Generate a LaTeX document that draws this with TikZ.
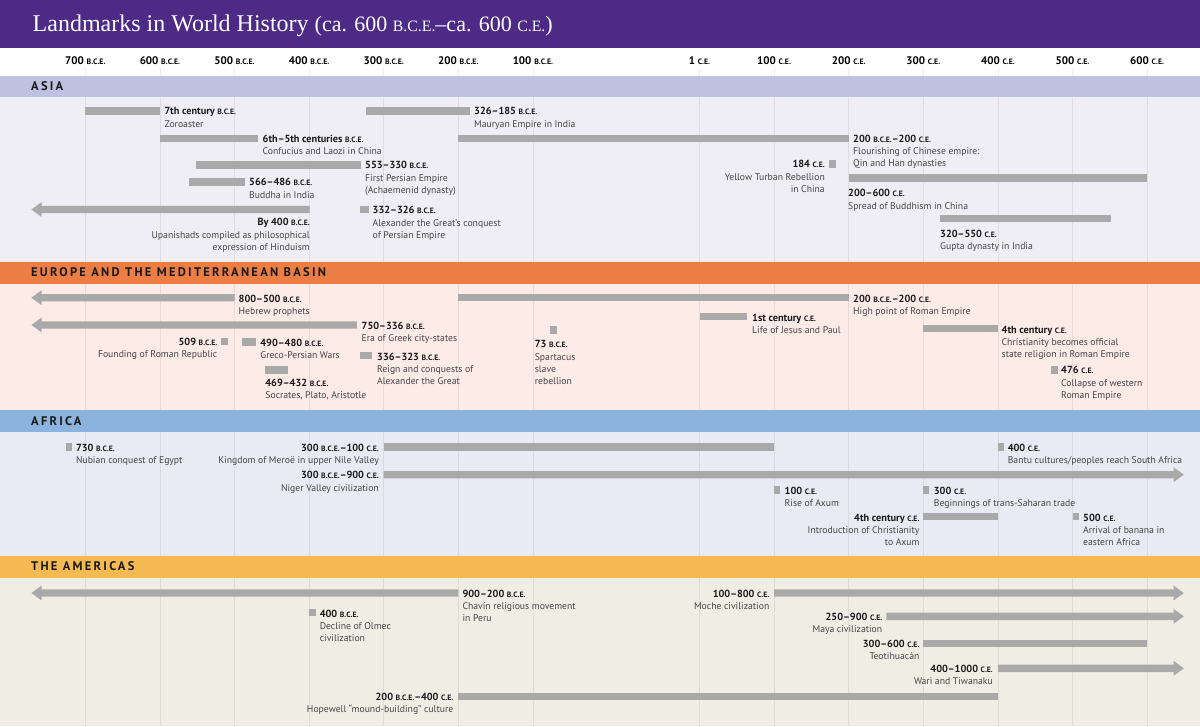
\documentclass[tikz,border=0pt]{standalone}
\usepackage{fontspec}
\setmainfont{PT Sans}
\newfontfamily\titlefont{Liberation Serif}
\newfontfamily\secfont{PT Sans}[LetterSpace=18]
\definecolor{hdr}{HTML}{4C2A85}
\definecolor{asiaband}{HTML}{BEC1E0}
\definecolor{asiabg}{HTML}{F0EEF5}
\definecolor{euband}{HTML}{EC7E45}
\definecolor{eubg}{HTML}{FDEBE8}
\definecolor{afband}{HTML}{8CB2DE}
\definecolor{afbg}{HTML}{E9EAF4}
\definecolor{amband}{HTML}{F5BA52}
\definecolor{ambg}{HTML}{F0EEE4}
\definecolor{barcol}{HTML}{A9A9A9}
\definecolor{desc}{HTML}{454545}
\definecolor{datecol}{HTML}{1A1A1A}
\newcommand\bce{{\fontsize{7.7}{6.8}\selectfont B.C.E.}}
\newcommand\ce{{\fontsize{7.7}{6.8}\selectfont C.E.}}
\newcommand\dt[1]{{\color{datecol}\bfseries\fontsize{10.3}{12.2}\selectfont #1}}
\newcommand\tbar[3]{\fill[barfill] (#1,{#3-3.7}) rectangle (#2,{#3+3.7});}
\newcommand\arrL[2]{\fill[barfill] (31.4,#2) -- (41.5,{#2-7.4}) -- (41.5,{#2-3.7}) -- (#1,{#2-3.7}) -- (#1,{#2+3.7}) -- (41.5,{#2+3.7}) -- (41.5,{#2+7.4}) -- cycle;}
\newcommand\arrR[2]{\fill[barfill] (1183.8,#2) -- (1173.7,{#2-7.4}) -- (1173.7,{#2-3.7}) -- (#1,{#2-3.7}) -- (#1,{#2+3.7}) -- (1173.7,{#2+3.7}) -- (1173.7,{#2+7.4}) -- cycle;}
\tikzset{
  lab/.style={inner sep=0pt, font=\fontsize{9.7}{12.2}\selectfont, text=desc, align=left, anchor=north west, yshift=4.9pt},
  labr/.style={lab, align=right, anchor=north east},
  barfill/.style={fill=barcol},
  gridc/.style={draw=black, draw opacity=0.07, line width=0.8pt},
  sect/.style={anchor=west, inner sep=0pt, text=datecol, font=\secfont\bfseries\fontsize{12.5}{13}\selectfont},
  axl/.style={inner sep=0pt, text=black, font=\bfseries\fontsize{11}{11}\selectfont},
}
\newcommand\abce{{\fontsize{7.8}{7.8}\selectfont B.C.E.}}
\newcommand\ace{{\fontsize{7.8}{7.8}\selectfont C.E.}}
\begin{document}
\begin{tikzpicture}[x=1pt,y=-1pt]
\useasboundingbox (0,0) rectangle (1200,726);
% backgrounds
\fill[hdr] (0,0) rectangle (1200,47.5);
\fill[white] (0,47.5) rectangle (1200,76);
\fill[asiabg] (0,96.5) rectangle (1200,261.5);
\fill[eubg] (0,283.5) rectangle (1200,409.5);
\fill[afbg] (0,431.5) rectangle (1200,555.5);
\fill[ambg] (0,577.5) rectangle (1200,726);
% grid
\foreach \x in {85.3,159.9,234.5,309.1,383.7,458.3,532.9,699.5,774.1,848.7,923.3,997.9,1072.5,1147.1}
  \draw[gridc] (\x,68) -- (\x,726);
% bands
\fill[asiaband] (0,76) rectangle (1200,96.5);
\fill[euband] (0,261.5) rectangle (1200,283.5);
\fill[afband] (0,409.5) rectangle (1200,431.5);
\fill[amband] (0,555.5) rectangle (1200,577.5);
% title
\node[anchor=base west, inner sep=0pt, text=white] (title) at (32.5,31)
  {\titlefont\fontsize{24}{26}\selectfont Landmarks in World History {\fontsize{22}{22}\selectfont (ca. 600 {\fontsize{15.8}{15.8}\selectfont B.C.E.}–ca. 600 {\fontsize{15.8}{15.8}\selectfont C.E.})}};
% axis
\foreach \x/\t [count=\i] in {85.3/700,159.9/600,234.5/500,309.1/400,383.7/300,458.3/200,532.9/100}
  \node[axl] (ab\i) at (\x,61) {\t\ \abce};
\foreach \x/\t [count=\i] in {699.5/1,774.1/100,848.7/200,923.3/300,997.9/400,1072.5/500,1147.1/600}
  \node[axl] (ac\i) at (\x,61) {\t\ \ace};
% section titles
\node[sect] (asia) at (31,86) {ASIA};
\node[sect] (europe) at (31,272.5) {EUROPE AND THE MEDITERRANEAN BASIN};
\node[sect] (africa) at (31,421) {AFRICA};
\node[sect] (americas) at (31,566.5) {THE AMERICAS};
% ---------- ASIA
\tbar{85.3}{160}{111}
\node[lab] (zoro) at (164.5,111) {\strut\dt{7th century \bce}\\Zoroaster};
\tbar{366}{469.5}{111}
\node[lab] (maur) at (474,111) {\strut\dt{326–185 \bce}\\Mauryan Empire in India};
\tbar{160}{258}{138.5}
\node[lab] (conf) at (262.5,138.5) {\strut\dt{6th–5th centuries \bce}\\Confucius and Laozi in China};
\tbar{458.3}{848.7}{138.5}
\node[lab] (qin) at (853,138.5) {\strut\dt{200 \bce–200 \ce}\\Flourishing of Chinese empire:\\Qin and Han dynasties};
\tbar{196}{360.5}{165}
\node[lab] (pers) at (365,165) {\strut\dt{553–330 \bce}\\First Persian Empire\\(Achaemenid dynasty)};
\tbar{829}{836}{164}
\node[labr] (yell) at (825,164) {\strut\dt{184 \ce}\\Yellow Turban Rebellion\\in China};
\tbar{189}{245}{182}
\node[lab] (budd) at (249,182) {\strut\dt{566–486 \bce}\\Buddha in India};
\tbar{848.7}{1147}{178}
\node[lab] (bchin) at (848,193) {\strut\dt{200–600 \ce}\\Spread of Buddhism in China};
\arrL{309.5}{209.5}
\node[labr] (upan) at (310,222) {\strut\dt{By 400 \bce}\\Upanishads compiled as philosophical\\expression of Hinduism};
\tbar{359.5}{368.5}{209.5}
\node[lab] (alex) at (372.5,210) {\strut\dt{332–326 \bce}\\Alexander the Great’s conquest\\of Persian Empire};
\tbar{940}{1111}{218.5}
\node[lab] (gupta) at (940,233.3) {\strut\dt{320–550 \ce}\\Gupta dynasty in India};
% ---------- EUROPE
\arrL{234.5}{297.7}
\node[lab] (hebr) at (238.5,298.3) {\strut\dt{800–500 \bce}\\Hebrew prophets};
\tbar{458.3}{848.7}{297.7}
\node[lab] (rome) at (853,298.3) {\strut\dt{200 \bce–200 \ce}\\High point of Roman Empire};
\arrL{356.8}{325}
\node[lab] (greek) at (361.5,325.3) {\strut\dt{750–336 \bce}\\Era of Greek city-states};
\tbar{221}{228}{341.7}
\node[labr] (repub) at (217.5,341.7) {\strut\dt{509 \bce}\\Founding of Roman Republic};
\tbar{242.3}{256.4}{342}
\node[lab] (grper) at (260.2,342.3) {\strut\dt{490–480 \bce}\\Greco-Persian Wars};
\tbar{359.7}{372}{355.3}
\node[lab] (reign) at (377,356.3) {\strut\dt{336–323 \bce}\\Reign and conquests of\\Alexander the Great};
\tbar{265}{288}{370}
\node[lab] (socr) at (265.2,382.7) {\strut\dt{469–432 \bce}\\Socrates, Plato, Aristotle};
\tbar{550}{557}{330}
\node[lab] (spart) at (534.6,344) {\strut\dt{73 \bce}\\Spartacus\\slave\\rebellion};
\tbar{699.5}{747.3}{316.7}
\node[lab] (jesus) at (752,317.3) {\strut\dt{1st century \ce}\\Life of Jesus and Paul};
\tbar{922.6}{998}{328.7}
\node[lab] (chr) at (1001.5,329.3) {\strut\dt{4th century \ce}\\Christianity becomes official\\state religion in Roman Empire};
\tbar{1051}{1057.5}{370}
\node[lab] (coll) at (1061,370) {\strut\dt{476 \ce}\\Collapse of western\\Roman Empire};
% ---------- AFRICA
\tbar{65.8}{72.3}{447}
\node[lab] (nub) at (75.8,447.3) {\strut\dt{730 \bce}\\Nubian conquest of Egypt};
\tbar{383.7}{774.1}{447}
\node[labr] (mero) at (379,447.3) {\strut\dt{300 \bce–100 \ce}\\Kingdom of Meroë in upper Nile Valley};
\arrR{383.7}{474.7}
\node[labr] (niger) at (379,475) {\strut\dt{300 \bce–900 \ce}\\Niger Valley civilization};
\tbar{998}{1004.3}{447}
\node[lab] (bantu) at (1007.6,447.3) {\strut\dt{400 \ce}\\Bantu cultures/peoples reach South Africa};
\tbar{774}{780.3}{490}
\node[lab] (axum) at (784.5,490.7) {\strut\dt{100 \ce}\\Rise of Axum};
\tbar{922.6}{929}{490}
\node[lab] (sahar) at (933.7,490.7) {\strut\dt{300 \ce}\\Beginnings of trans-Saharan trade};
\tbar{922.6}{998}{516.7}
\node[labr] (axchr) at (919.6,517.3) {\strut\dt{4th century \ce}\\Introduction of Christianity\\to Axum};
\tbar{1072.6}{1078.8}{516.7}
\node[lab] (banana) at (1083,517.3) {\strut\dt{500 \ce}\\Arrival of banana in\\eastern Africa};
% ---------- AMERICAS
\arrL{458.3}{593}
\node[lab] (chav) at (462.3,593.3) {\strut\dt{900–200 \bce}\\Chavín religious movement\\in Peru};
\tbar{309.2}{315.7}{612.3}
\node[lab] (olmec) at (319.6,613.3) {\strut\dt{400 \bce}\\Decline of Olmec\\civilization};
\arrR{774.1}{593}
\node[labr] (moche) at (769.5,593.3) {\strut\dt{100–800 \ce}\\Moche civilization};
\arrR{886.3}{616.3}
\node[labr] (maya) at (882.4,616.7) {\strut\dt{250–900 \ce}\\Maya civilization};
\tbar{923.3}{1147.3}{643.3}
\node[labr] (teo) at (919.6,643.3) {\strut\dt{300–600 \ce}\\Teotihuacán};
\arrR{997.9}{668.3}
\node[labr] (wari) at (993,668.3) {\strut\dt{400–1000 \ce}\\Wari and Tiwanaku};
\tbar{458.3}{997.9}{696.3}
\node[labr] (hope) at (453.5,696.7) {\strut\dt{200 \bce–400 \ce}\\Hopewell “mound-building” culture};
\end{tikzpicture}
\end{document}
